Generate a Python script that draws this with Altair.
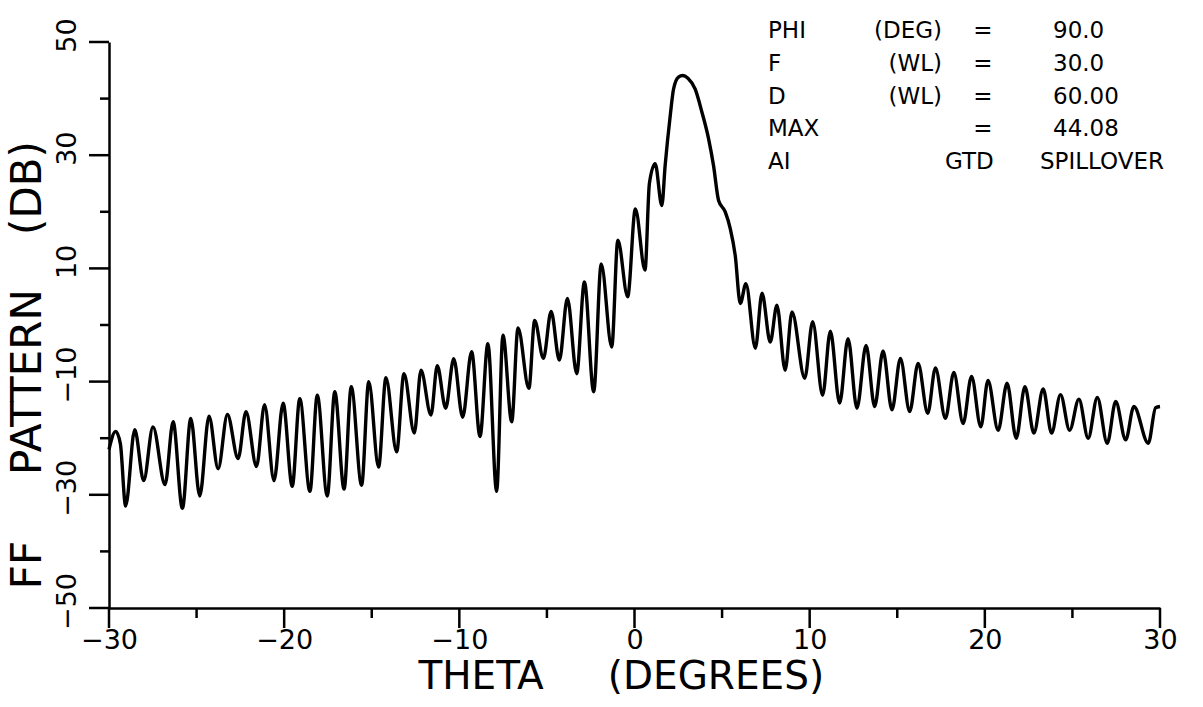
import altair as alt
import pandas as pd

# ---- data (theta in degrees, pattern in dB) ----
theta = [
    -30.0, -29.62, -29.35, -29.05, -28.53, -28.02, -27.49, -26.8, -26.34, -25.81,
    -25.33, -24.82, -24.29, -23.77, -23.24, -22.63, -22.18, -21.58, -21.12, -20.58,
    -20.06, -19.54, -19.11, -18.53, -18.11, -17.54, -17.11, -16.58, -16.17, -15.58,
    -15.17, -14.61, -14.19, -13.58, -13.16, -12.57, -12.19, -11.62, -11.26, -10.78,
    -10.32, -9.81, -9.3, -8.82, -8.37, -7.87, -7.51, -7.01, -6.65, -6.03,
    -5.7, -5.2, -4.76, -4.29, -3.83, -3.3, -2.86, -2.33, -1.9, -1.3,
    -0.95, -0.39, 0.05, 0.6, 0.85, 1.18, 1.56, 1.75, 2.04, 2.23,
    2.51, 2.75, 3.05, 3.46, 3.85, 4.23, 4.51, 4.8, 5.18, 5.47,
    5.75, 6.04, 6.36, 6.9, 7.28, 7.75, 8.13, 8.6, 8.99, 9.72,
    10.17, 10.74, 11.18, 11.71, 12.19, 12.7, 13.22, 13.71, 14.19, 14.7,
    15.18, 15.71, 16.19, 16.74, 17.18, 17.75, 18.23, 18.76, 19.24, 19.77,
    20.18, 20.76, 21.27, 21.79, 22.29, 22.8, 23.33, 23.81, 24.32, 24.84,
    25.37, 25.9, 26.42, 26.99, 27.47, 28.04, 28.51, 29.33, 29.75, 30.0,
]
pattern_db = [
    -22.0, -18.8, -21.0, -32.0, -18.5, -27.5, -18.0, -28.2, -17.1, -32.4,
    -16.5, -30.2, -16.1, -25.4, -15.8, -23.6, -15.3, -25.0, -14.1, -27.5,
    -13.8, -28.5, -13.0, -29.4, -12.4, -30.2, -11.8, -29.0, -10.9, -28.3,
    -10.0, -25.1, -9.3, -22.4, -8.6, -19.1, -8.0, -15.9, -7.2, -14.7,
    -5.95, -16.3, -4.7, -19.7, -3.3, -29.4, -1.8, -17.1, -0.5, -11.2,
    0.8, -5.9, 2.4, -6.2, 4.7, -8.6, 7.6, -11.8, 10.8, -3.9,
    15.0, 5.0, 20.5, 9.7, 25.0, 28.5, 21.1, 28.2, 37.0, 41.7,
    43.8, 44.08, 43.6, 41.7, 37.6, 32.9, 28.2, 22.0, 20.0, 17.0,
    12.3, 3.8, 7.3, -4.1, 5.6, -3.0, 3.5, -8.0, 2.3, -9.4,
    0.6, -12.4, -1.1, -13.8, -2.4, -14.7, -3.6, -14.4, -4.6, -15.0,
    -5.9, -15.3, -6.8, -15.6, -7.6, -16.5, -8.4, -17.4, -9.1, -18.0,
    -9.8, -18.6, -10.3, -20.0, -10.9, -19.1, -11.3, -19.1, -12.3, -18.6,
    -13.1, -20.0, -12.8, -20.9, -13.5, -20.3, -14.4, -20.9, -14.6, -14.4,
]

x_major = [-30, -20, -10, 0, 10, 20, 30]
x_minor = [-25, -15, -5, 5, 15, 25]
y_major = [50, 30, 10, -10, -30, -50]
y_minor = [40, 20, 0, -20, -40]

info_keys = ["PHI", "F", "D", "MAX", "AI"]
info_units = ["(DEG)", "(WL)", "(WL)", "", ""]
info_eq = ["=", "=", "=", "=", ""]
info_vals = ["90.0", "30.0", "60.00", "44.08", ""]
info_code = ["", "", "", "", "GTD"]
info_kind = ["", "", "", "", "SPILLOVER"]

x_title_words = ["THETA", "(DEGREES)"]
y_title_words = ["FF", "PATTERN", "(DB)"]

FONT = "DejaVu Sans"
LEFT, TOP = 109, 42
W, H = 1051, 566

df = pd.DataFrame({"theta": theta, "db": pattern_db})

xs = alt.Scale(domain=[-30, 30], nice=False, zero=False)
ys = alt.Scale(domain=[-50, 50], nice=False, zero=False)

line = alt.Chart(df).transform_window(idx="row_number()").mark_line(
    color="black", strokeWidth=3.4, strokeJoin="round", interpolate="monotone", clip=False
).encode(
    x=alt.X("theta:Q", scale=xs, axis=alt.Axis(
        values=x_major, ticks=False, domain=True, domainColor="black", domainWidth=2.5,
        labelFont=FONT, labelFontSize=27, labelColor="black", labelPadding=19,
        labelFlush=False, labelOverlap=False, grid=False, title=None)),
    y=alt.Y("db:Q", scale=ys, axis=alt.Axis(
        values=y_major, ticks=False, domain=True, domainColor="black", domainWidth=2.5,
        labelFont=FONT, labelFontSize=27, labelColor="black", labelPadding=34,
        labelAngle=270, labelAlign="center", labelBaseline="alphabetic",
        labelOffset=-7, labelFlush=False, labelOverlap=False, grid=False, title=None)),
    order="idx:Q",
)


def ticks_x(vals, length):
    d = pd.DataFrame({"v": vals})
    return alt.Chart(d).mark_rule(color="black", strokeWidth=2.5).encode(
        x=alt.X("v:Q", scale=xs), y=alt.value(H), y2=alt.value(H + length))


def ticks_y(vals, length):
    d = pd.DataFrame({"v": vals})
    return alt.Chart(d).mark_rule(color="black", strokeWidth=2.5).encode(
        y=alt.Y("v:Q", scale=ys, axis=None), x=alt.value(0), x2=alt.value(-length))


info = pd.DataFrame({"k": info_keys, "u": info_units, "e": info_eq, "v": info_vals,
                     "g": info_code, "s": info_kind,
                     "row": list(range(len(info_keys)))})


def info_col(field, xpos, align="left"):
    return alt.Chart(info).mark_text(font=FONT, fontSize=23, align=align,
                                     baseline="alphabetic", color="black").encode(
        text=f"{field}:N", x=alt.value(xpos - LEFT),
        y=alt.Y("row:Q", scale=alt.Scale(domain=[0, 4], range=[38 - TOP, 169 - TOP]),
                axis=None))


def word(text, cx, cy, angle, size):
    d = pd.DataFrame({"t": [text]})
    return alt.Chart(d).mark_text(font=FONT, fontSize=size, angle=angle, align="center",
                                  baseline="alphabetic", color="black").encode(
        text="t:N", x=alt.value(cx - LEFT), y=alt.value(cy - TOP))


titles = [
    word(x_title_words[0], 481, 689, 0, 39),
    word(x_title_words[1], 716, 689, 0, 39),
    word(y_title_words[0], 41, 565, 270, 42),
    word(y_title_words[1], 41, 382, 270, 42),
    word(y_title_words[2], 41, 188, 270, 42),
]

chart = alt.layer(
    line,
    ticks_x(x_major, 20), ticks_x(x_minor, 10),
    ticks_y(y_major, 20), ticks_y(y_minor, 9),
    info_col("k", 768), info_col("u", 942, "right"),
    info_col("e", 983, "center"), info_col("v", 1053),
    info_col("g", 945), info_col("s", 1040),
    *titles,
).resolve_scale(y="independent").properties(
    width=W, height=H, background="white",
    padding={"left": LEFT, "top": TOP, "right": 1203 - LEFT - W, "bottom": 707 - TOP - H},
    autosize=alt.AutoSizeParams(type="none"),
).configure_view(strokeWidth=0, strokeOpacity=0)

chart.save("out.html", embed_options={"renderer": "svg", "actions": False})
